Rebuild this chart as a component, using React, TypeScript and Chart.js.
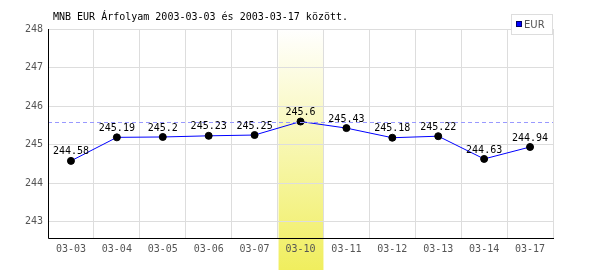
import React, { useEffect, useRef } from "react";
import { Chart, registerables } from "chart.js";

Chart.register(...registerables);

const titleText = "MNB EUR Árfolyam 2003-03-03 és 2003-03-17 között.";
const categories = ["03-03", "03-04", "03-05", "03-06", "03-07", "03-10", "03-11", "03-12", "03-13", "03-14", "03-17"];
const eurValues = [244.58, 245.19, 245.2, 245.23, 245.25, 245.6, 245.43, 245.18, 245.22, 244.63, 244.94];
const valueLabels = ["244.58", "245.19", "245.2", "245.23", "245.25", "245.6", "245.43", "245.18", "245.22", "244.63", "244.94"];
const seriesName = "EUR";
const highlightIndex = 5;
const maxLineValue = 245.6;
const yMin = 242.58;
const yMax = 248;

const MONO = "'DejaVu Sans Mono', monospace";

const decorPlugin = {
  id: "decor",
  beforeDraw(chart: any) {
    const { ctx, chartArea, scales } = chart;
    const x = scales.x;
    const w = x.getPixelForValue(1) - x.getPixelForValue(0);
    const cx = x.getPixelForValue(highlightIndex);
    const left = cx - w / 2 + 1;
    const right = cx + w / 2;
    ctx.save();
    const g = ctx.createLinearGradient(0, chartArea.top, 0, chart.height);
    g.addColorStop(0, "#ffffff");
    g.addColorStop(1, "#f0ee5e");
    ctx.fillStyle = g;
    ctx.fillRect(left, chartArea.top, right - left, chart.height - chartArea.top);
    ctx.restore();
  },
  afterDatasetsDraw(chart: any) {
    const { ctx, chartArea, scales } = chart;
    const y = scales.y;
    ctx.save();
    // dashed max line
    const yp = Math.round(y.getPixelForValue(maxLineValue)) + 0.5;
    ctx.strokeStyle = "#9999ff";
    ctx.lineWidth = 1;
    ctx.setLineDash([4, 3]);
    ctx.beginPath();
    ctx.moveTo(chartArea.left, yp);
    ctx.lineTo(chartArea.right, yp);
    ctx.stroke();
    ctx.setLineDash([]);
    // value labels
    const meta = chart.getDatasetMeta(0);
    ctx.font = `10px ${MONO}`;
    ctx.fillStyle = "#000";
    ctx.textAlign = "center";
    ctx.textBaseline = "bottom";
    meta.data.forEach((pt: any, i: number) => {
      ctx.fillText(valueLabels[i], pt.x, pt.y - 4);
    });
    // title
    ctx.textAlign = "left";
    ctx.textBaseline = "middle";
    ctx.fillText(titleText, 53, 17);
    // legend
    ctx.fillStyle = "#fff";
    ctx.fillRect(511, 14, 42, 21);
    ctx.strokeStyle = "#dddddd";
    ctx.strokeRect(511.5, 14.5, 41, 20);
    ctx.fillStyle = "#0000ff";
    ctx.fillRect(516, 21, 6, 6);
    ctx.strokeStyle = "#000066";
    ctx.strokeRect(516.5, 21.5, 5, 5);
    ctx.fillStyle = "#555";
    ctx.font = `10px 'DejaVu Sans', sans-serif`;
    ctx.fillText(seriesName, 524, 25);
    // axes lines
    ctx.strokeStyle = "#000";
    ctx.beginPath();
    ctx.moveTo(chartArea.left + 0.5, chartArea.top);
    ctx.lineTo(chartArea.left + 0.5, chartArea.bottom + 0.5);
    ctx.lineTo(chartArea.right + 1, chartArea.bottom + 0.5);
    ctx.stroke();
    ctx.restore();
  },
};

export default function App() {
  const ref = useRef<HTMLCanvasElement>(null);
  useEffect(() => {
    document.body.style.margin = "0";
    const chart = new Chart(ref.current!, {
      type: "line",
      data: {
        labels: categories,
        datasets: [
          {
            label: seriesName,
            data: eurValues,
            borderColor: "#0000ff",
            borderWidth: 1,
            pointBackgroundColor: "#000",
            pointBorderColor: "#000",
            pointRadius: 3.5,
            tension: 0,
          },
        ],
      },
      options: {
        responsive: false,
        animation: false,
        devicePixelRatio: 1,
        layout: { padding: { top: 29, right: 47, left: 0, bottom: 0 } },
        plugins: { legend: { display: false }, tooltip: { enabled: false }, title: { display: false } },
        scales: {
          x: {
            offset: true,
            grid: { offset: true, color: "#dddddd", drawTicks: false },
            border: { display: false },
            ticks: { color: "#555", font: { family: MONO, size: 10 }, padding: 5, maxRotation: 0, autoSkip: false },
            afterFit(s: any) { s.height = 32; },
          },
          y: {
            min: yMin,
            max: yMax,
            afterBuildTicks(s: any) {
              s.ticks = [243, 244, 245, 246, 247, 248].map((v) => ({ value: v }));
            },
            grid: { color: "#dddddd", drawTicks: false },
            border: { display: false },
            ticks: { color: "#555", font: { family: MONO, size: 10 }, padding: 5 },
            afterFit(s: any) { s.width = 48; },
          },
        },
      },
      plugins: [decorPlugin],
    });
    return () => chart.destroy();
  }, []);
  return (
    <div style={{ width: 600, height: 270 }}>
      <canvas ref={ref} width={600} height={270} style={{ display: "block" }} />
    </div>
  );
}
